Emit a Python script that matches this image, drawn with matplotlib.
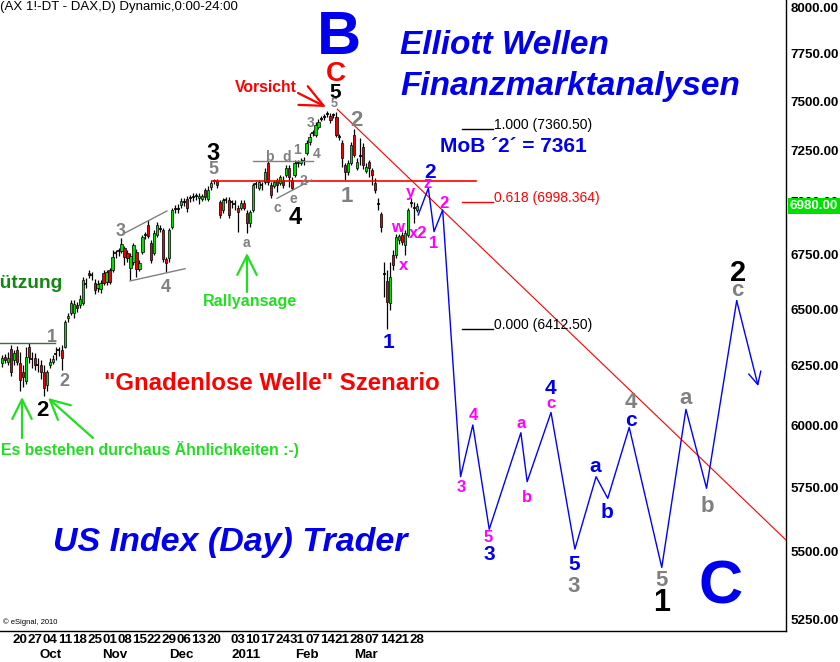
import numpy as np
import matplotlib
matplotlib.use('Agg')
import matplotlib.pyplot as plt
import matplotlib.transforms as mtransforms
from matplotlib.ticker import FixedLocator, NullLocator, FuncFormatter

plt.rcParams['font.family'] = ['Liberation Sans', 'DejaVu Sans']

# ---- daily candles (bar index 0 = 20 Sep 2010, trading days only) ----
first_bar = -6
opens = [6264, 6290, 6268, 6324, 6277, 6320, 6264, 6226, 6184, 6333,
         6277, 6286, 6256, 6252, 6222, 6167, 6256, 6268, 6305, 6315,
         6320, 6333, 6461, 6483, 6483, 6519, 6519, 6528, 6620, 6664,
         6650, 6618, 6595, 6591, 6664, 6623, 6678, 6678, 6750, 6761,
         6765, 6779, 6756, 6687, 6715, 6761, 6683, 6761, 6835, 6887,
         6803, 6756, 6840, 6873, 6864, 6728, 6733, 6878, 6962, 6968,
         6983, 6998, 7012, 7015, 7022, 7022, 7017, 7012, 7056, 7012,
         7071, 7098, 7099, 6997, 6959, 7007, 7007, 6992, 6995, 6968,
         6968, 6993, 6945, 6897, 6959, 7080, 7066, 7080, 7095, 7188,
         7080, 7075, 7104, 7090, 7104, 7129, 7163, 7104, 7129, 7187,
         7188, 7203, 7238, 7293, 7338, 7328, 7368, 7408, 7420, 7433,
         7424, 7430, 7419, 7318, 7288, 7178, 7143, 7188, 7328, 7163,
         7228, 7268, 7148, 7193, 7153, 7090, 6995, 6940, 6665, 6627,
         6528, 6747, 6747, 6817, 6840, 6793, 6840, 6995, 6975, 6959]
highs = [6299, 6303, 6312, 6342, 6320, 6338, 6312, 6256, 6333, 6351,
         6312, 6307, 6286, 6277, 6256, 6234, 6286, 6299, 6333, 6333,
         6342, 6452, 6483, 6541, 6541, 6532, 6564, 6646, 6641, 6678,
         6669, 6637, 6632, 6632, 6678, 6678, 6687, 6770, 6770, 6779,
         6826, 6789, 6770, 6756, 6803, 6775, 6724, 6840, 6854, 6911,
         6817, 6864, 6901, 6887, 6873, 6738, 6873, 6968, 6983, 6988,
         7017, 7017, 7027, 7032, 7042, 7042, 7042, 7037, 7066, 7075,
         7104, 7108, 7109, 7007, 7017, 7022, 7022, 7007, 7007, 6983,
         7007, 7007, 6959, 6959, 7090, 7099, 7104, 7095, 7163, 7198,
         7095, 7104, 7114, 7129, 7124, 7178, 7178, 7119, 7203, 7203,
         7213, 7218, 7303, 7338, 7353, 7394, 7409, 7424, 7435, 7450,
         7440, 7440, 7445, 7333, 7303, 7188, 7203, 7293, 7360, 7213,
         7313, 7288, 7188, 7203, 7163, 7114, 7017, 6949, 6715, 6678,
         6715, 6770, 6845, 6845, 6854, 6864, 6968, 7017, 6997, 6993]
lows = [6247, 6264, 6256, 6205, 6256, 6252, 6142, 6159, 6171, 6264,
        6243, 6234, 6226, 6192, 6121, 6142, 6243, 6260, 6277, 6294,
        6234, 6329, 6443, 6474, 6461, 6487, 6505, 6519, 6595, 6641,
        6632, 6568, 6577, 6573, 6609, 6609, 6614, 6669, 6733, 6742,
        6756, 6701, 6715, 6632, 6701, 6646, 6673, 6752, 6821, 6826,
        6710, 6747, 6831, 6854, 6715, 6669, 6715, 6868, 6945, 6945,
        6968, 6978, 6949, 6997, 7002, 7007, 6988, 7002, 7007, 7002,
        7056, 7085, 7066, 6920, 6945, 6993, 6920, 6968, 6959, 6854,
        6959, 6959, 6850, 6878, 6949, 7066, 7056, 7056, 7085, 7080,
        7017, 7066, 7046, 7080, 7066, 7119, 7071, 7056, 7119, 7168,
        7178, 7178, 7228, 7278, 7323, 7318, 7358, 7399, 7404, 7419,
        7389, 7414, 7318, 7303, 7168, 7104, 7129, 7178, 7218, 7153,
        7178, 7158, 7139, 7119, 7080, 7042, 6959, 6854, 6555, 6412.5,
        6496, 6678, 6733, 6798, 6793, 6747, 6831, 6973, 6897, 6949]
closes = [6286, 6277, 6286, 6226, 6307, 6268, 6188, 6201, 6290, 6290,
          6281, 6256, 6252, 6222, 6154, 6222, 6268, 6281, 6300, 6318,
          6286, 6443, 6470, 6528, 6523, 6505, 6546, 6632, 6615, 6655,
          6652, 6586, 6614, 6618, 6618, 6669, 6623, 6738, 6755, 6765,
          6798, 6738, 6733, 6742, 6793, 6683, 6710, 6831, 6840, 6835,
          6724, 6850, 6887, 6870, 6728, 6710, 6864, 6959, 6965, 6966,
          7002, 6995, 6968, 7018, 7020, 7027, 7027, 7027, 7022, 7056,
          7090, 7100, 7080, 6935, 7007, 7005, 6935, 6995, 6990, 6949,
          6993, 6968, 6897, 6949, 7080, 7085, 7095, 7078, 7143, 7095,
          7032, 7095, 7080, 7119, 7080, 7163, 7119, 7066, 7188, 7190,
          7198, 7200, 7288, 7318, 7340, 7378, 7394, 7411, 7417, 7436,
          7404, 7428, 7328, 7316, 7213, 7143, 7188, 7278, 7228, 7193,
          7225, 7178, 7168, 7163, 7129, 7056, 6990, 6878, 6660, 6532,
          6646, 6701, 6831, 6835, 6807, 6850, 6959, 6992, 6970, 6980]
last_price = 6980

day_ticks = [0, 5, 10, 15, 20, 25, 30, 35, 40, 45, 50, 55, 60, 65,
             73, 78, 83, 88, 93, 98, 103, 108, 113, 118, 123, 128, 133]
day_labels = ['20', '27', '04', '11', '18', '25', '01', '08', '15', '22',
              '29', '06', '13', '20', '03', '10', '17', '24', '31', '07',
              '14', '21', '28', '07', '14', '21', '28']
month_pos = [10.4, 31.8, 54.0, 75.6, 96.0, 116.0]
month_labels = ['Oct', 'Nov', 'Dec', '2011', 'Feb', 'Mar']
price_ticks = [5250, 5500, 5750, 6000, 6250, 6500, 6750, 7000,
               7250, 7500, 7750, 8000]

# projected wave path (blue)
proj_bar = [133.4, 136.8, 138.7, 141.6, 147.6, 151.7, 157.2, 167.8, 169.9,
            177.9, 185.9, 193.0, 196.9, 204.1, 215.0, 223.1, 230.0, 240.1,
            247.3]
proj_price = [6935, 7064, 6856, 6959, 5791, 6001, 5585, 5969, 5771,
              6053, 5509, 5791, 5705, 5991, 5440, 6066, 5745, 6537,
              6164]

# drawn lines
trend_bar, trend_price = [106.3, 256.6], [7459, 5544]
resist_bar, resist_price = [64.3, 152.8], 7099
support_bar, support_price = [-6.7, 11.7], 6351
chan_top_bar, chan_top_price = [35.2, 49.2], [6850, 6954]
chan_bot_bar, chan_bot_price = [36.9, 55.3], [6627, 6683]
tri_top_bar, tri_top_price = [78.1, 98.2], [7198, 7198]
tri_bot_bar, tri_bot_price = [86.1, 97.7], [7015, 7104]
fib_bar = [148.1, 158.5]
fib_levels = [7360.5, 6998.364, 6412.5]
fib_text = ['1.000 (7360.50)', '0.618 (6998.364)', '0.000 (6412.50)']
fib_colors = ['black', 'red', 'black']

W, H = 840, 662
AX_W, AX_H = 786, 631
fig = plt.figure(figsize=(W / 100, H / 100), dpi=100)
fig.patch.set_facecolor('white')
ax = fig.add_axes([0, 1 - AX_H / H, AX_W / W, AX_H / H])
ax.set_yscale('log')
ax.set_xlim(-6.70, 256.62)
ax.set_ylim(5207, 8042)

# candles
bars = np.arange(first_bar, first_bar + len(closes))
o = np.array(opens, float)
h = np.array(highs, float)
l = np.array(lows, float)
c = np.array(closes, float)
ax.vlines(bars, l, h, color='black', lw=0.9, zorder=2)
doji = np.abs(c - o) < 6
up = (c > o) & ~doji
dn = (c < o) & ~doji
ax.bar(bars[up], (c - o)[up], bottom=o[up], width=0.75, color='#00dd00',
       edgecolor='black', lw=0.5, zorder=3)
ax.bar(bars[dn], (o - c)[dn], bottom=c[dn], width=0.75, color='#ee0000',
       edgecolor='black', lw=0.5, zorder=3)
ax.hlines(c[doji], bars[doji] - 0.5, bars[doji] + 0.5, color='black',
          lw=1.2, zorder=3)

# lines
ax.plot(trend_bar, trend_price, color='red', lw=0.8, zorder=4)
ax.plot(resist_bar, [resist_price] * 2, color='red', lw=1.2, zorder=4)
ax.plot(support_bar, [support_price] * 2, color='#3c6e3c', lw=1, zorder=4)
for xs, ys in [(chan_top_bar, chan_top_price), (chan_bot_bar, chan_bot_price),
               (tri_top_bar, tri_top_price), (tri_bot_bar, tri_bot_price)]:
    ax.plot(xs, ys, color='#808080', lw=1, zorder=4)
for lev, txt, col in zip(fib_levels, fib_text, fib_colors):
    ax.plot(fib_bar, [lev, lev], color=col, lw=1, zorder=4)
    ax.text(fib_bar[1] + 0.3, lev, txt, color=col, fontsize=10,
            ha='left', va='baseline', zorder=5)

ax.plot(proj_bar[:-1], proj_price[:-1], color='#0000ff', lw=1, zorder=4)
ax.annotate('', xy=(proj_bar[-1], proj_price[-1]),
            xytext=(proj_bar[-2], proj_price[-2]),
            arrowprops=dict(arrowstyle='->,head_length=0.6,head_width=0.3',
                            color='#0000ff', lw=1, mutation_scale=15,
                            shrinkA=0, shrinkB=0))


def px(x, y):
    return x / AX_W, 1 - y / AX_H


def label(s, x, y, color, size, weight='bold', style='normal', ha='center'):
    ax.text(*px(x, y), s, transform=ax.transAxes, color=color, fontsize=size,
            fontweight=weight, fontstyle=style, ha=ha, va='center',
            clip_on=False, zorder=6)


def arrow(x0, y0, x1, y1, color, lw, hl, hw, ms):
    ax.annotate('', xy=px(x1, y1), xytext=px(x0, y0), xycoords='axes fraction',
                textcoords='axes fraction',
                arrowprops=dict(arrowstyle=f'->,head_length={hl},head_width={hw}',
                                color=color, lw=lw, mutation_scale=ms,
                                shrinkA=0, shrinkB=0), zorder=6)


GREY, BLUE, PINK = '#808080', '#0000ee', '#ff00ff'
GREEN = '#22dd22'

# wave labels
for s, x, y, col, sz in [
        ('1', 52, 337, GREY, 13), ('2', 64, 381, GREY, 13),
        ('3', 121, 231, GREY, 13), ('4', 166, 288, GREY, 13),
        ('5', 213, 170, GREY, 13), ('a', 246, 243, GREY, 10),
        ('b', 269, 157, GREY, 10), ('c', 277, 208, GREY, 10),
        ('d', 287, 157, GREY, 10), ('e', 293, 199, GREY, 10),
        ('1', 297, 150, GREY, 10), ('2', 303, 181, GREY, 10),
        ('3', 311, 123, GREY, 10), ('4', 317, 154, GREY, 10),
        ('5', 334, 104, GREY, 9), ('2', 356, 121, GREY, 16),
        ('1', 346.5, 197, GREY, 16),
        ('2', 42, 411, 'black', 16), ('3', 213, 153, 'black', 17),
        ('4', 295, 217, 'black', 17), ('5', 335, 93, 'black', 15),
        ('1', 662, 603, 'black', 22), ('2', 738, 273, 'black', 21),
        ('C', 336, 74, 'red', 20),
        ('2', 430, 172, BLUE, 15), ('1', 388, 343, BLUE, 15),
        ('3', 489, 555, BLUE, 15), ('4', 550, 389, BLUE, 15),
        ('5', 574, 565, BLUE, 15), ('a', 595, 467, BLUE, 15),
        ('b', 607, 512, BLUE, 15), ('c', 631, 421, BLUE, 15),
        ('3', 574, 587, GREY, 16), ('4', 631, 403, GREY, 16),
        ('5', 662, 581, GREY, 16), ('a', 686, 398, GREY, 16),
        ('b', 707, 507, GREY, 16), ('c', 737, 291, GREY, 16),
        ('z', 428, 184, PINK, 12), ('y', 410, 192, PINK, 12),
        ('w', 397, 227, PINK, 12), ('x2', 418, 234, PINK, 12),
        ('x', 404, 266, PINK, 12), ('1', 434, 244, PINK, 12),
        ('2', 444, 203, PINK, 12), ('3', 461, 488, PINK, 12),
        ('4', 473, 415, PINK, 12), ('5', 488, 537, PINK, 12),
        ('a', 521, 423, PINK, 12), ('b', 527, 497, PINK, 12),
        ('c', 551, 404, PINK, 12)]:
    label(s, x, y, col, sz)

label('B', 339, 39, BLUE, 44)
label('C', 721, 588, BLUE, 44)

# texts
label('(AX 1!-DT - DAX,D) Dynamic,0:00-24:00', 0, 7, 'black', 9.5,
      weight='normal', ha='left')
label('Vorsicht', 266, 88, 'red', 11.3)
label('Elliott Wellen', 400, 45, BLUE, 24, style='italic', ha='left')
label('Finanzmarktanalysen', 400, 87, BLUE, 24, style='italic', ha='left')
label('MoB \u00b42\u00b4 = 7361', 440, 146, BLUE, 15, ha='left')
label('"Gnadenlose Welle" Szenario', 104, 383, 'red', 17.3, ha='left')
label('US Index (Day) Trader', 53, 543, BLUE, 24.5, style='italic', ha='left')
label('Rallyansage', 250, 302, GREEN, 11.6)
label('Es bestehen durchaus \u00c4hnlichkeiten :-)', 1, 450, GREEN, 11.4,
      ha='left')
label('Unterst\u00fctzung', 63, 283, '#118811', 13.8, ha='right')
label('\u00a9 eSignal, 2010', 3, 622, 'black', 5.5, weight='normal', ha='left')

# arrows
arrow(22, 438, 22, 397, GREEN, 1.6, 0.7, 0.35, 20)
arrow(93, 438, 48, 398, GREEN, 1.6, 0.7, 0.35, 20)
arrow(247, 292, 247, 253, GREEN, 1.6, 0.7, 0.35, 20)
arrow(298, 93, 326, 107, 'red', 1.6, 1.1, 0.5, 15)

# axes styling
for side in ['left', 'top']:
    ax.spines[side].set_visible(False)
for side in ['right', 'bottom']:
    ax.spines[side].set_color('black')
    ax.spines[side].set_linewidth(1)

ax.yaxis.tick_right()
ax.yaxis.set_major_locator(FixedLocator(price_ticks))
ax.yaxis.set_minor_locator(NullLocator())
ax.yaxis.set_major_formatter(FuncFormatter(lambda v, _: f'{v:.2f}'))
ax.tick_params(axis='y', length=0, pad=3.5, labelsize=9.6)
ax.set_xticks(day_ticks, day_labels)
ax.tick_params(axis='x', length=0, pad=2, labelsize=9.6)
for lab in ax.get_xticklabels() + ax.get_yticklabels():
    lab.set_fontweight('bold')

trans = mtransforms.blended_transform_factory(ax.transData, ax.transAxes)
for pos, name in zip(month_pos, month_labels):
    ax.text(pos, 1 - 655 / AX_H, name, transform=trans, ha='center',
            va='center', fontsize=9.6, fontweight='bold', clip_on=False)

ytrans = mtransforms.blended_transform_factory(ax.transAxes, ax.transData)
ax.text(1 + 4 / AX_W, last_price, f'{last_price:.2f}', transform=ytrans,
        ha='left', va='center', color='white', fontsize=9.6, fontweight='bold',
        bbox=dict(boxstyle='square,pad=0.15', fc='#00e000', ec='none'),
        clip_on=False, zorder=7)

fig.savefig('out.png', dpi=100)
